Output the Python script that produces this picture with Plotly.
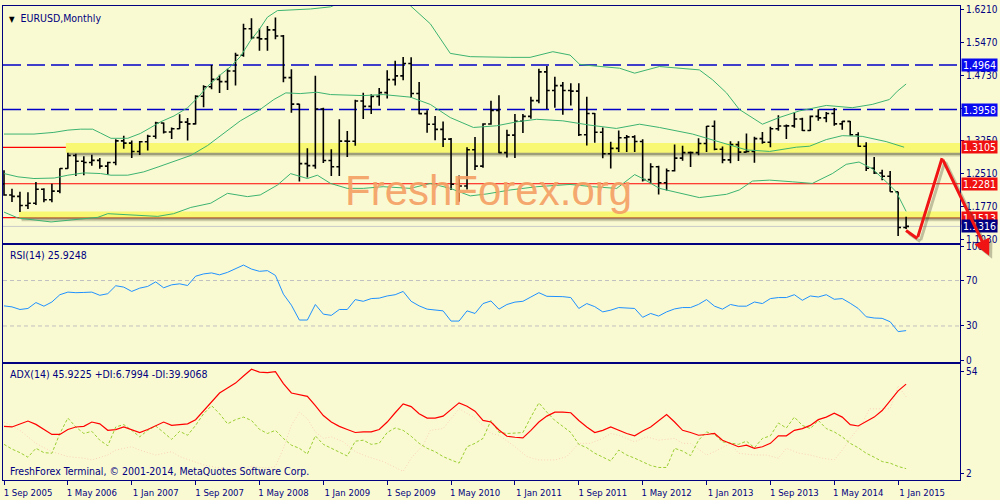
import plotly.graph_objects as go

# ---------------- data ----------------
# Monthly EURUSD bars, Sep 2005 .. Feb 2015 (bar index 0..113)
bar_open = [
    1.2276, 1.2026, 1.1995, 1.1790,
    1.1840, 1.2155, 1.1920, 1.2115, 1.2625, 1.2920, 1.2790, 1.2760, 1.2810, 1.2680, 1.2760, 1.3250,
    1.3200, 1.3010, 1.3230, 1.3355, 1.3655, 1.3450, 1.3525, 1.3675, 1.3635, 1.4260, 1.4475, 1.4640,
    1.4590, 1.4830, 1.5185, 1.5785, 1.5585, 1.5555, 1.5760, 1.5620, 1.4680, 1.4080, 1.2735, 1.2690,
    1.3970, 1.2805, 1.2665, 1.3245, 1.3240, 1.4150, 1.4030, 1.4255, 1.4340, 1.4635, 1.4720, 1.5000,
    1.4320, 1.3865, 1.3625, 1.3510, 1.3290, 1.2270, 1.2230, 1.3050, 1.2680, 1.3630, 1.3940, 1.2985,
    1.3380, 1.3695, 1.3805, 1.4160, 1.4810, 1.4390, 1.4500, 1.4390, 1.4375, 1.3390, 1.3870, 1.3445,
    1.2960, 1.3080, 1.3320, 1.3340, 1.3235, 1.2375, 1.2665, 1.2305, 1.2575, 1.2860, 1.2985, 1.2985,
    1.3190, 1.3580, 1.3060, 1.2820, 1.3165, 1.2995, 1.3010, 1.3300, 1.3220, 1.3525, 1.3585, 1.3590,
    1.3745, 1.3485, 1.3805, 1.3770, 1.3870, 1.3635, 1.3690, 1.3390, 1.3130, 1.2630, 1.2525, 1.2450,
    1.2100, 1.1290,
]
bar_high = [
    1.2586, 1.2165, 1.2100, 1.2090,
    1.2323, 1.2177, 1.2280, 1.2630, 1.2980, 1.2960, 1.2900, 1.2935, 1.2865, 1.2780, 1.3285, 1.3365,
    1.3260, 1.3250, 1.3390, 1.3680, 1.3665, 1.3555, 1.3850, 1.3770, 1.4280, 1.4505, 1.4965, 1.4745,
    1.4880, 1.5245, 1.5900, 1.6020, 1.5790, 1.5845, 1.6040, 1.5645, 1.4870, 1.4090, 1.3085, 1.4720,
    1.4000, 1.3060, 1.3740, 1.3475, 1.4180, 1.4340, 1.4305, 1.4445, 1.4845, 1.5060, 1.5145, 1.5140,
    1.4580, 1.3945, 1.3815, 1.3690, 1.3315, 1.2470, 1.3105, 1.3335, 1.3650, 1.4155, 1.4280, 1.3500,
    1.3860, 1.3860, 1.4250, 1.4880, 1.4940, 1.4700, 1.4580, 1.4550, 1.4550, 1.4245, 1.3880, 1.3550,
    1.3230, 1.3485, 1.3385, 1.3380, 1.3285, 1.2745, 1.2690, 1.2625, 1.3170, 1.3140, 1.3010, 1.3310,
    1.3585, 1.3710, 1.3125, 1.3240, 1.3240, 1.3415, 1.3345, 1.3450, 1.3570, 1.3830, 1.3620, 1.3895,
    1.3775, 1.3825, 1.3965, 1.3905, 1.3995, 1.3700, 1.3700, 1.3445, 1.3220, 1.2885, 1.2600, 1.2570,
    1.2100, 1.1534,
]
bar_low = [
    1.2011, 1.1870, 1.1640, 1.1710,
    1.1800, 1.1860, 1.1860, 1.2065, 1.2620, 1.2455, 1.2475, 1.2690, 1.2620, 1.2485, 1.2700, 1.3070,
    1.2865, 1.2930, 1.3030, 1.3300, 1.3415, 1.3295, 1.3520, 1.3260, 1.3620, 1.4010, 1.4420, 1.4330,
    1.4400, 1.4500, 1.5150, 1.5545, 1.5290, 1.5285, 1.5550, 1.4575, 1.3885, 1.2330, 1.2420, 1.2620,
    1.2750, 1.2455, 1.2455, 1.2885, 1.3140, 1.3745, 1.3860, 1.4045, 1.4210, 1.4500, 1.4620, 1.4220,
    1.3850, 1.3435, 1.3265, 1.3110, 1.2140, 1.1875, 1.2150, 1.2590, 1.2645, 1.3615, 1.2970, 1.2875,
    1.2865, 1.3430, 1.3750, 1.4100, 1.3970, 1.4000, 1.3840, 1.4050, 1.3360, 1.3145, 1.3210, 1.2860,
    1.2625, 1.3000, 1.3000, 1.3000, 1.2330, 1.2285, 1.2040, 1.2130, 1.2560, 1.2800, 1.2660, 1.2925,
    1.3000, 1.3040, 1.2745, 1.2745, 1.2795, 1.2990, 1.2755, 1.3185, 1.3105, 1.3480, 1.3295, 1.3545,
    1.3475, 1.3475, 1.3705, 1.3670, 1.3590, 1.3500, 1.3365, 1.3120, 1.2570, 1.2500, 1.2360, 1.2100,
    1.1098, 1.1260,
]
bar_close = [
    1.2026, 1.1995, 1.1790, 1.1840,
    1.2155, 1.1920, 1.2115, 1.2625, 1.2920, 1.2790, 1.2760, 1.2810, 1.2680, 1.2760, 1.3250, 1.3200,
    1.3010, 1.3230, 1.3355, 1.3655, 1.3450, 1.3525, 1.3675, 1.3635, 1.4260, 1.4475, 1.4640, 1.4590,
    1.4830, 1.5185, 1.5785, 1.5585, 1.5555, 1.5760, 1.5620, 1.4680, 1.4080, 1.2735, 1.2690, 1.3970,
    1.2805, 1.2665, 1.3245, 1.3240, 1.4150, 1.4030, 1.4255, 1.4340, 1.4635, 1.4720, 1.5000, 1.4320,
    1.3865, 1.3625, 1.3510, 1.3290, 1.2270, 1.2230, 1.3050, 1.2680, 1.3630, 1.3940, 1.2985, 1.3380,
    1.3695, 1.3805, 1.4160, 1.4810, 1.4390, 1.4500, 1.4390, 1.4375, 1.3390, 1.3870, 1.3445, 1.2960,
    1.3080, 1.3320, 1.3340, 1.3235, 1.2375, 1.2665, 1.2305, 1.2575, 1.2860, 1.2985, 1.2985, 1.3190,
    1.3580, 1.3060, 1.2820, 1.3165, 1.2995, 1.3010, 1.3300, 1.3220, 1.3525, 1.3585, 1.3590, 1.3745,
    1.3485, 1.3805, 1.3770, 1.3870, 1.3635, 1.3690, 1.3390, 1.3130, 1.2630, 1.2525, 1.2450, 1.2100,
    1.1290, 1.1316,
]

# Bollinger bands (bar index, price)
bb_up_x = [0, 1.75, 3.75, 6.25, 8, 9.6, 11.1, 12.1, 13.4, 15.5, 17.1, 18.4, 19.6, 21.3, 23, 24.25,
           25.5, 27.1, 28.4, 29.6, 30.9, 31.9, 33, 34.25, 35.9, 38.4, 40.9, 45, 50.9, 53.4, 55.9,
           58.4, 63.4, 65.9, 68.75, 70.9, 72.1, 73.4, 77.1, 79, 82.1, 87.1, 88.75, 90.5, 92.1, 95,
           97.1, 99.6, 103, 106.25, 108.75, 110.9, 111.9, 113]
bb_up_v = [1.3404, 1.3404, 1.3404, 1.3442, 1.3493, 1.3515, 1.3515, 1.3426, 1.3308, 1.3308, 1.3419,
           1.3553, 1.3680, 1.3814, 1.4000, 1.4223, 1.4484, 1.4743, 1.4931, 1.5154, 1.5525, 1.5748,
           1.6047, 1.6195, 1.6210, 1.6232, 1.6280, 1.6600, 1.6306, 1.5897, 1.5228, 1.5154, 1.5138,
           1.5138, 1.5266, 1.5190, 1.4982, 1.4953, 1.4893, 1.4781, 1.4931, 1.4855, 1.4632, 1.4335,
           1.3962, 1.3627, 1.3777, 1.3926, 1.4051, 1.4000, 1.4074, 1.4185, 1.4373, 1.4536]
bb_mid_x = [0, 1.75, 3.75, 6.3, 8, 10, 12.1, 13.4, 15.5, 17.5, 19.3, 21.3, 23.4, 25.5, 27.1, 29.6,
            32.1, 33.8, 35.3, 37.1, 39.2, 40.9, 45, 47.5, 50.9, 53.4, 55.9, 58.8, 61.7, 64.2, 66.7,
            70, 73.4, 76.7, 79.6, 82.1, 86.25, 90.5, 93, 95.9, 99.25, 100.9, 103, 105, 107.5,
            110.5, 112.75]
bb_mid_v = [1.2511, 1.2437, 1.2399, 1.2410, 1.2474, 1.2526, 1.2511, 1.2474, 1.2474, 1.2549, 1.2660,
            1.2787, 1.2921, 1.3145, 1.3368, 1.3703, 1.3962, 1.4185, 1.4335, 1.4319, 1.4350, 1.4297,
            1.4274, 1.4297, 1.4239, 1.4074, 1.3777, 1.3553, 1.3591, 1.3680, 1.3738, 1.3703, 1.3605,
            1.3531, 1.3627, 1.3553, 1.3404, 1.3181, 1.3046, 1.3011, 1.3107, 1.3129, 1.3279, 1.3368,
            1.3352, 1.3234, 1.3107]
bb_low_x = [0, 1.75, 5.9, 8.75, 11.75, 13, 16.25, 19.25, 21.25, 23.4, 25.9, 28, 30.5, 32.1, 34.25,
            35.9, 38, 39.25, 40.9, 43, 45, 47.5, 50.9, 53.4, 55.9, 58.4, 60.5, 63.4, 66.75, 70.9,
            73.75, 76.75, 79, 80, 82.1, 84.6, 87.1, 90.5, 92.1, 93.75, 95.9, 98.75, 101.25, 103.75,
            105.5, 107.1, 108.75, 110.5, 111.75, 113]
bb_low_v = [1.1640, 1.1506, 1.1417, 1.1470, 1.1521, 1.1604, 1.1580, 1.1543, 1.1604, 1.1745, 1.1841,
            1.2064, 1.1990, 1.2028, 1.2251, 1.2510, 1.2399, 1.2474, 1.2288, 1.2176, 1.2176, 1.2214,
            1.2176, 1.2288, 1.2176, 1.2006, 1.2051, 1.2140, 1.2214, 1.2265, 1.2214, 1.2176, 1.2488,
            1.2399, 1.2176, 1.2064, 1.1968, 1.2042, 1.2140, 1.2341, 1.2363, 1.2325, 1.2288, 1.2510,
            1.2720, 1.2772, 1.2622, 1.2325, 1.2102, 1.1656]

# RSI(14), one value per bar
rsi = [
    47.7, 46.8, 44.5, 45.4, 50.6, 47.4, 51.1, 57.5, 59.8, 59.3,
    59.5, 59.8, 57.0, 58.4, 65.4, 64.2, 60.4, 63.3, 64.8, 68.8,
    63.6, 66.2, 67.1, 65.6, 73.8, 75.8, 76.7, 75.0, 77.2, 80.1,
    83.6, 80.1, 78.1, 78.7, 74.5, 58.0, 48.3, 35.2, 35.2, 48.9,
    40.4, 39.3, 44.5, 44.5, 53.2, 51.7, 54.1, 54.5, 56.4, 57.5,
    60.4, 51.7, 47.7, 44.8, 44.0, 43.3, 34.3, 34.3, 43.3, 41.0,
    49.7, 52.0, 44.8, 48.9, 51.0, 51.7, 55.5, 59.3, 56.1, 56.0,
    55.8, 55.0, 45.4, 49.7, 47.0, 42.4, 43.9, 46.2, 46.0, 45.4,
    37.6, 41.0, 38.7, 42.4, 45.0, 46.2, 46.2, 49.0, 53.2, 47.4,
    44.8, 48.9, 47.4, 47.4, 51.1, 49.7, 54.1, 55.0, 55.0, 57.5,
    52.6, 56.4, 55.5, 57.5, 53.5, 54.1, 50.0, 45.4, 38.1, 37.0,
    36.7, 33.7, 25.0, 25.9,
]

# ADX(14) with +DI / -DI (values on the panel's drawn scale)
adx = [
    26.0, 25.7, 27.2, 28.7, 27.0, 24.5, 21.9, 21.9, 24.4, 25.7,
    26.0, 28.2, 27.3, 24.0, 24.4, 25.7, 24.4, 22.9, 24.4, 26.5,
    28.2, 26.5, 27.0, 27.3, 29.4, 34.0, 38.7, 42.9, 45.4, 47.9,
    51.5, 54.9, 53.5, 53.2, 53.7, 47.7, 42.9, 42.0, 41.2, 36.5,
    31.5, 28.2, 26.0, 24.4, 22.9, 23.2, 23.2, 24.4, 28.2, 32.9,
    37.4, 36.0, 32.4, 30.2, 30.2, 31.2, 34.4, 37.9, 36.2, 33.7,
    29.0, 28.2, 24.2, 21.0, 20.5, 20.2, 24.0, 28.2, 31.2, 33.2,
    33.2, 32.9, 29.0, 25.7, 22.9, 24.0, 25.7, 24.0, 22.4, 21.2,
    23.7, 25.7, 29.0, 32.0, 28.2, 24.0, 22.9, 21.5, 21.9, 22.4,
    19.0, 17.4, 15.7, 16.5, 14.9, 15.7, 17.4, 21.2, 21.2, 24.0,
    24.9, 26.5, 29.4, 30.7, 32.7, 30.7, 26.9, 26.2, 28.5, 30.7,
    34.0, 39.0, 44.0, 47.4,
]
plus_di = [
    16.9, 14.5, 12.7, 10.4, 14.9, 12.7, 12.4, 22.4, 30.2, 25.7,
    22.4, 23.5, 19.0, 16.2, 25.7, 26.9, 24.0, 20.7, 24.0, 26.2,
    22.9, 19.4, 23.5, 21.5, 26.5, 32.4, 36.5, 32.4, 27.3, 29.4,
    30.7, 29.0, 24.5, 22.4, 24.0, 19.9, 16.5, 14.9, 12.0, 21.2,
    16.9, 14.9, 12.9, 11.0, 18.5, 19.0, 16.9, 17.4, 22.9, 25.2,
    24.0, 21.0, 17.4, 14.9, 13.2, 10.7, 9.0, 7.4, 15.7, 17.4,
    19.9, 29.0, 23.0, 22.4, 22.6, 22.9, 30.7, 37.9, 33.2, 29.0,
    26.0, 22.9, 16.9, 15.2, 12.4, 10.4, 8.5, 14.0, 11.5, 9.9,
    8.2, 6.2, 5.2, 5.2, 14.9, 13.5, 11.2, 19.0, 23.2, 21.9,
    18.2, 17.4, 16.9, 18.5, 15.2, 19.9, 21.2, 27.7, 25.2, 30.7,
    26.5, 24.9, 29.0, 24.9, 23.2, 20.7, 17.4, 15.2, 12.4, 10.4,
    8.2, 7.4, 5.7, 4.6,
]
minus_di_x = [0, 2, 4, 6, 8, 10, 11, 13, 14, 16, 17, 19, 21, 22, 25, 27, 29, 31, 33, 34,
              35, 36, 37, 38, 39, 40, 41, 42.5, 44, 45.5, 47.5, 50, 51, 52.5, 53.4, 55, 57, 58.8, 60, 61,
              62, 64, 65.5, 67, 69, 70.5, 72, 73.4, 75, 76, 77, 79, 80.5, 82, 84, 85, 86, 88, 89, 91,
              92, 94, 95.5, 97, 98, 99.6, 101, 102.5, 104, 105, 106, 107.5, 108.4, 109.6, 111, 112, 113]
minus_di_v = [28.2, 24.0, 17.4, 13.2, 10.7, 9.9, 9.0, 11.5, 14.0, 15.7, 14.0, 11.5, 13.2, 10.7, 6.5, 4.9,
              4.0, 5.7, 4.9, 5.7, 14.9, 26.5, 33.2, 29.9, 23.2, 19.9, 20.7, 18.2, 13.2, 10.7, 8.2, 3.2,
              9.9, 16.5, 24.0, 24.9, 34.9, 30.7, 26.5, 22.4, 21.5, 15.7, 10.7, 9.0, 9.0, 10.7, 17.4,
              17.4, 19.9, 22.4, 21.5, 18.2, 20.7, 19.0, 19.9, 17.4, 17.4, 11.5, 13.2, 17.4, 12.4, 11.5,
              11.5, 9.9, 14.9, 12.4, 11.5, 9.9, 9.0, 14.0, 19.9, 27.4, 34.9, 34.9, 34.9, 46.5, 41.0]

# time axis labels (every 8 bars from Sep 2005)
date_labels = ["1 Sep 2005", "1 May 2006", "1 Jan 2007", "1 Sep 2007", "1 May 2008", "1 Jan 2009",
               "1 Sep 2009", "1 May 2010", "1 Jan 2011", "1 Sep 2011", "1 May 2012", "1 Jan 2013",
               "1 Sep 2013", "1 May 2014", "1 Jan 2015"]
date_ticks = list(range(0, 8 * len(date_labels), 8))

price_ticks = [1.6210, 1.5470, 1.4730, 1.3990, 1.3250, 1.2510, 1.1770, 1.1030]
blue_levels = [1.4964, 1.3958]
red_levels = [1.3105, 1.2281, 1.1513]
current_price = 1.1316
# highlighted zones: (start bar, low, high)
zones = [(7.75, 1.2979, 1.3203), (1.9, 1.1520, 1.1655)]
# hand-drawn forecast path (bar index, price)
forecast_x = [112.8, 114.4, 117.5, 123.4]
forecast_y = [1.1247, 1.1041, 1.2861, 1.0651]

# ---------------- styling ----------------
BG = "#FAFAD2"
NAVY = "#000080"
FONT = "DejaVu Sans Condensed, Liberation Sans, Arial, sans-serif"
XR = [-0.125, 119.75]

idx = list(range(len(bar_close)))
fig = go.Figure()

fig.add_trace(go.Ohlc(
    x=idx, open=bar_open, high=bar_high, low=bar_low, close=bar_close,
    increasing=dict(line=dict(color="#000000", width=1.6)),
    decreasing=dict(line=dict(color="#000000", width=1.6)),
    tickwidth=0.36, xaxis="x", yaxis="y", hoverinfo="skip", showlegend=False))

for bx, bv in ((bb_up_x, bb_up_v), (bb_mid_x, bb_mid_v), (bb_low_x, bb_low_v)):
    fig.add_trace(go.Scatter(x=bx, y=bv, mode="lines", xaxis="x", yaxis="y",
                             line=dict(color="#3CB371", width=1), hoverinfo="skip", showlegend=False))

fig.add_trace(go.Scatter(x=idx, y=rsi, mode="lines", xaxis="x2", yaxis="y2",
                         line=dict(color="#1E90FF", width=1), hoverinfo="skip", showlegend=False))

fig.add_trace(go.Scatter(x=minus_di_x, y=minus_di_v, mode="lines", xaxis="x3", yaxis="y3",
                         line=dict(color="#F8D2B8", width=1, dash="1px,2px"), hoverinfo="skip", showlegend=False))
fig.add_trace(go.Scatter(x=idx, y=plus_di, mode="lines", xaxis="x3", yaxis="y3",
                         line=dict(color="#9ACD32", width=1, dash="3px,2px"), hoverinfo="skip", showlegend=False))
fig.add_trace(go.Scatter(x=idx, y=adx, mode="lines", xaxis="x3", yaxis="y3",
                         line=dict(color="#FF0000", width=1.2), hoverinfo="skip", showlegend=False))

shapes = []
for zx, zlo, zhi in zones:
    shapes.append(dict(type="rect", xref="x", yref="y", x0=zx + 0.3, x1=XR[1] + 1,
                       y0=zlo - 0.0085, y1=zhi - 0.0085, line=dict(width=0),
                       fillcolor="rgba(70,70,40,0.25)", layer="below"))
    shapes.append(dict(type="rect", xref="x", yref="y", x0=zx + 0.2, x1=XR[1] + 1,
                       y0=zlo - 0.0050, y1=zhi - 0.0050, line=dict(width=0),
                       fillcolor="rgba(70,70,40,0.35)", layer="below"))
    shapes.append(dict(type="rect", xref="x", yref="y", x0=zx, x1=XR[1] + 1,
                       y0=zlo, y1=zhi, line=dict(width=0), fillcolor="#F8F872", layer="below"))
for lv in blue_levels:
    shapes.append(dict(type="line", xref="x domain", yref="y", x0=0, x1=1, y0=lv, y1=lv,
                       line=dict(color="#0000C8", width=1.4, dash="18px,6px"), layer="below"))
for lv in red_levels:
    shapes.append(dict(type="line", xref="x domain", yref="y", x0=0, x1=1, y0=lv, y1=lv,
                       line=dict(color="#FF0000", width=1.2), layer="below"))
shapes.append(dict(type="line", xref="x domain", yref="y", x0=0, x1=1, y0=current_price, y1=current_price,
                   line=dict(color="#C8C8C8", width=1), layer="below"))
for lv in (70, 30):
    shapes.append(dict(type="line", xref="x2 domain", yref="y2", x0=0, x1=1, y0=lv, y1=lv,
                       line=dict(color="#C0C0C0", width=1, dash="4px,3px"), layer="below"))

ann = []
# price level boxes on the right axis
box_levels = [(v, "#0A0AF0") for v in blue_levels] + [(v, "#F01010") for v in red_levels] + [(current_price, NAVY)]
for lv, col in box_levels:
    ann.append(dict(xref="paper", x=1, xanchor="left", xshift=1, yref="y", y=lv, yanchor="middle",
                    text=f"{lv:.4f}", showarrow=False, bgcolor=col, borderpad=0, width=35, align="center",
                    font=dict(family=FONT, size=10.5, color="white")))

# panel captions
ann.append(dict(xref="paper", yref="paper", x=0, y=1, xanchor="left", yanchor="top", xshift=4, yshift=-4,
                showarrow=False, align="left",
                text='<span style="font-size:8px;color:#000000">▼</span>  EURUSD,Monthly',
                font=dict(family=FONT, size=10.5, color=NAVY)))
ann.append(dict(xref="x2 domain", yref="y2 domain", x=0, y=1, xanchor="left", yanchor="top", xshift=5, yshift=-2,
                showarrow=False, text="RSI(14) 25.9248", font=dict(family=FONT, size=10.5, color=NAVY)))
ann.append(dict(xref="x3 domain", yref="y3 domain", x=0, y=1, xanchor="left", yanchor="top", xshift=5, yshift=-2,
                showarrow=False, text="ADX(14) 45.9225 +DI:6.7994 -DI:39.9068",
                font=dict(family=FONT, size=10.5, color=NAVY)))
ann.append(dict(xref="x3 domain", yref="y3 domain", x=0, y=0, xanchor="left", yanchor="bottom", xshift=5, yshift=1,
                showarrow=False, text="FreshForex Terminal, © 2001-2014, MetaQuotes Software Corp.",
                font=dict(family=FONT, size=10.5, color=NAVY)))

# watermark
ann.append(dict(xref="x domain", yref="y domain", x=0.507, y=0.222, xanchor="center", yanchor="middle",
                showarrow=False, text="FreshForex.org",
                font=dict(family="Liberation Sans, Arial, sans-serif", size=42, color="rgba(245,160,100,0.92)")))

# hand-drawn forecast arrow (shadow first, then red)
for col, dx, dy in (("rgba(60,60,40,0.30)", 3, -3), ("#F01414", 0, 0)):
    for k in range(len(forecast_x) - 1):
        last = k == len(forecast_x) - 2
        ann.append(dict(xref="x", yref="y", axref="x", ayref="y",
                        x=forecast_x[k + 1], y=forecast_y[k + 1], ax=forecast_x[k], ay=forecast_y[k],
                        text="", showarrow=True, arrowcolor=col, arrowwidth=3,
                        arrowhead=2 if last else 0, arrowsize=1.1, standoff=0, startstandoff=0,
                        xshift=dx, yshift=dy))

axis_line = dict(showgrid=False, zeroline=False, showline=True, mirror=True, linecolor=NAVY, linewidth=1,
                 fixedrange=True)
tickfont = dict(family=FONT, size=10, color=NAVY)

fig.update_layout(
    width=1000, height=500,
    margin=dict(l=2, r=39, t=2, b=18),
    paper_bgcolor=BG, plot_bgcolor=BG,
    showlegend=False, hovermode=False,
    shapes=shapes, annotations=ann,
    xaxis=dict(**axis_line, domain=[0, 1], anchor="y", range=XR, showticklabels=False, ticks="",
               rangeslider=dict(visible=False)),
    xaxis2=dict(**axis_line, domain=[0, 1], anchor="y2", range=XR, showticklabels=False, ticks=""),
    xaxis3=dict(**axis_line, domain=[0, 1], anchor="y3", range=XR, tickmode="array",
                tickvals=date_ticks, ticktext=date_labels, ticks="outside", ticklen=4, tickcolor=NAVY,
                tickfont=dict(family=FONT, size=9.5, color=NAVY), ticklabelshift=24),
    yaxis=dict(**axis_line, domain=[0.501, 1.0], anchor="x", side="right", range=[1.09519, 1.62993],
               tickmode="array", tickvals=price_ticks, ticktext=[f"{v:.4f}" for v in price_ticks],
               ticks="outside", ticklen=3, tickcolor=NAVY, tickfont=tickfont),
    yaxis2=dict(**axis_line, domain=[0.25, 0.49583], anchor="x2", side="right", range=[-1.3, 101.3],
                tickmode="array", tickvals=[100, 70, 30, 0], ticktext=["100", "70", "30", "0"],
                ticks="outside", ticklen=3, tickcolor=NAVY, tickfont=tickfont),
    yaxis3=dict(**axis_line, domain=[0, 0.24375], anchor="x3", side="right", range=[-1.15, 57.35],
                tickmode="array", tickvals=[54, 2], ticktext=["54", "2"],
                ticks="outside", ticklen=3, tickcolor=NAVY, tickfont=tickfont),
)

fig.write_html("out.html", config={"displayModeBar": False},
               post_script="document.body.style.margin='0';document.body.style.overflow='hidden';"
                           "document.body.style.background='" + BG + "';")
